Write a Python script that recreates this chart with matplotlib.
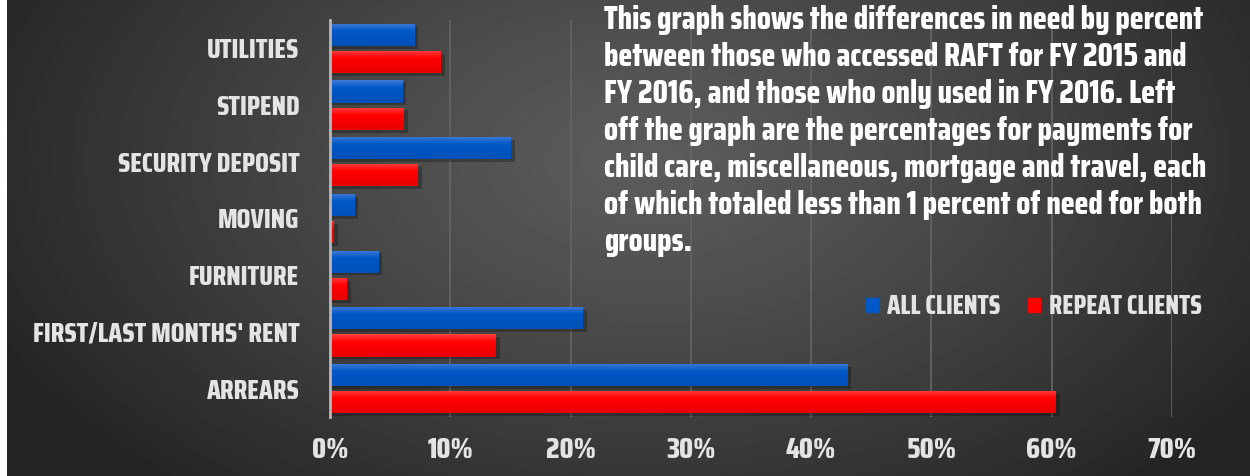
import numpy as np
import matplotlib
matplotlib.use("Agg")
import matplotlib.pyplot as plt
from matplotlib.patches import Patch

FONT = ["Saira Condensed", "DejaVu Sans"]
WEIGHT = 800
plt.rcParams["font.family"] = FONT
plt.rcParams["font.weight"] = WEIGHT

# data (percent of need)
categories = ["UTILITIES", "STIPEND", "SECURITY DEPOSIT", "MOVING",
              "FURNITURE", "FIRST/LAST MONTHS' RENT", "ARREARS"]
all_clients = [7.0, 6.0, 15.0, 2.0, 4.0, 21.0, 43.0]
repeat_clients = [9.2, 6.1, 7.3, 0.3, 1.4, 13.8, 60.3]
xticks = [0, 10, 20, 30, 40, 50, 60, 70]
series_names = ["ALL CLIENTS", "REPEAT CLIENTS"]
note_lines = ["This graph shows the differences in need by percent",
              "between those who accessed RAFT for FY 2015 and",
              "FY 2016, and those who only used in FY 2016. Left",
              "off the graph are the percentages for payments for",
              "child care, miscellaneous, mortgage and travel, each",
              "of which totaled less than 1 percent of need for both",
              "groups."]

W, H = 1250, 476
fig = plt.figure(figsize=(W / 100, H / 100), dpi=100, facecolor="white")
renderer = fig.canvas.get_renderer()


def fit_size(text, width_px, start=20):
    t = fig.text(0, 0, text, fontsize=start, fontweight=WEIGHT)
    w = t.get_window_extent(renderer).width
    t.remove()
    return start * width_px / w


# radial grey background
bg = fig.add_axes([7 / W, 0, 1 - 7 / W, 1], zorder=-10)
yy, xx = np.mgrid[0:H, 7:W]
d = np.sqrt(((xx - 650) / 720.0) ** 2 + ((yy - 160) / 430.0) ** 2)
d = np.clip(d, 0, 1)
v = (0x5c - (0x5c - 0x25) * d ** 1.2) / 255.0
bg.imshow(v, cmap="gray", vmin=0, vmax=1, aspect="auto", interpolation="bilinear")
bg.axis("off")

ax = fig.add_axes([330 / W, 59 / H, 842 / W, 397 / H])
ax.patch.set_alpha(0)

pos = np.arange(len(categories))
h = 0.39
off = 0.24


def grad_bars(ypos, vals, top, mid, bot):
    cmap = matplotlib.colors.LinearSegmentedColormap.from_list(
        "g", [(0, top), (0.35, mid), (1, bot)])
    g = np.linspace(0, 1, 50).reshape(-1, 1)
    for y, val in zip(ypos, vals):
        # soft shadow
        ax.barh(y + 0.05, val + 0.35, height=h, left=0, color="black",
                alpha=0.25, zorder=2, linewidth=0)
        b = ax.barh(y, val, height=h, color=mid, zorder=3, linewidth=0)[0]
        im = ax.imshow(g, cmap=cmap, extent=[0, val, y + h / 2, y - h / 2],
                       aspect="auto", zorder=4, interpolation="bilinear")
        im.set_clip_path(b)


grad_bars(pos - off, all_clients, "#3f7ad6", "#0058c6", "#0050b8")
grad_bars(pos + off, repeat_clients, "#ff4040", "#ff0000", "#e80000")

cat_size = fit_size("FIRST/LAST MONTHS' RENT", 267)
tick_size = fit_size("10%", 46)
leg_size = fit_size("REPEAT CLIENTS", 153)
note_size = fit_size(note_lines[5], 599)

ax.set_xlim(0, 70)
ax.set_ylim(len(categories) - 0.5, -0.5)
ax.set_yticks(pos)
ax.set_yticklabels(categories)
ax.set_xticks(xticks)
ax.set_xticklabels([f"{t}%" for t in xticks])
ax.tick_params(axis="y", length=0, pad=22, labelsize=cat_size, labelcolor="#e4e4e4")
ax.tick_params(axis="x", length=0, pad=14, labelsize=tick_size, labelcolor="#e4e4e4")
ax.grid(axis="x", color="#636363", linewidth=1.3, zorder=1)
ax.set_axisbelow(True)
for s in ["top", "right", "bottom"]:
    ax.spines[s].set_visible(False)
ax.spines["left"].set_color("#b8b8b8")
ax.spines["left"].set_linewidth(2)
ax.spines["left"].set_zorder(5)

handles = [Patch(color="#0058c6", label=series_names[0]),
           Patch(color="#ff0000", label=series_names[1])]
leg = fig.legend(handles=handles, loc="center left",
                 bbox_to_anchor=(866 / W, 1 - 307 / H), ncol=2, frameon=False,
                 borderpad=0, borderaxespad=0,
                 handlelength=0.45, handleheight=0.45, handletextpad=0.35,
                 columnspacing=1.05, fontsize=leg_size)
for t in leg.get_texts():
    t.set_color("#e4e4e4")

fig.text(604 / W, 1 - 5 / H, "\n".join(note_lines), ha="left", va="top",
         color="white", fontsize=note_size, linespacing=1.29)

fig.savefig("out.png", dpi=100, facecolor=fig.get_facecolor())
